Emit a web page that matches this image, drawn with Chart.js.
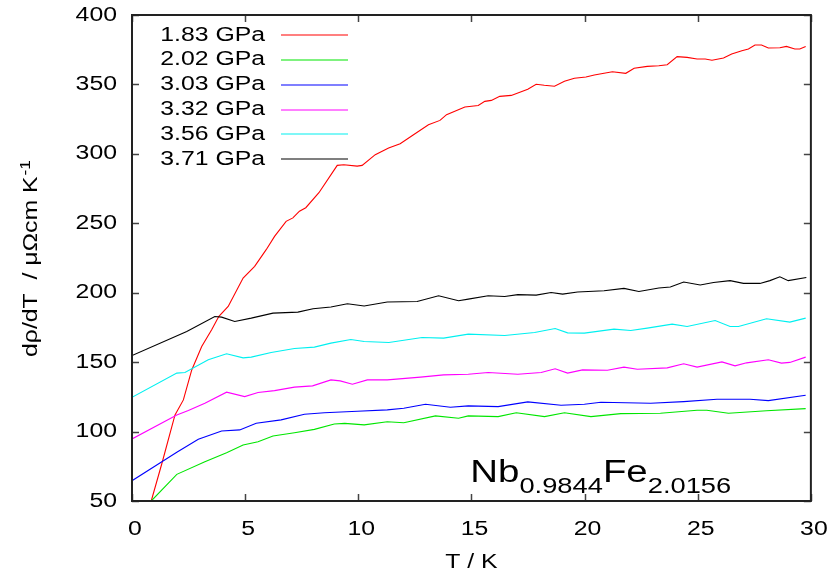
<!DOCTYPE html>
<html>
<head>
<meta charset="utf-8">
<script src="https://cdn.jsdelivr.net/npm/chart.js@4.4.1/dist/chart.umd.min.js"></script>
<style>
  html, body { margin: 0; padding: 0; background: #ffffff; }
  canvas { display: block; }
</style>
</head>
<body>
<canvas id="c" width="838" height="581"></canvas>
<script>
// dρ/dT versus T for Nb0.9844Fe2.0156 at several pressures
const seriesLabels = ['1.83 GPa', '2.02 GPa', '3.03 GPa', '3.32 GPa', '3.56 GPa', '3.71 GPa'];
const seriesColors = ['#ff0000', '#00e600', '#0000ff', '#ff00ff', '#00f0f0', '#000000'];

const T_183 = [0.85,1.32,1.9,2.27,2.64,3.08,3.52,3.84,4.25,4.91,5.42,5.93,6.3,6.81,7.11,7.4,7.68,8.26,9.07,9.36,9.95,10.17,10.75,11.34,11.85,12.44,13.1,13.61,13.9,14.71,15.3,15.59,15.88,16.25,16.76,17.49,17.86,18.22,18.67,19.11,19.55,20.06,20.43,21.23,21.82,22.19,22.77,23.28,23.65,24.09,24.53,24.97,25.33,25.63,26.14,26.5,26.95,27.24,27.53,27.82,28.12,28.63,28.92,29.29,29.51,29.77];
const V_183 = [50,77,112,122.8,144.4,161.3,173.3,183,190.1,210.6,219,231,240.6,251.4,253.9,258.7,261.2,272,291.7,292.2,291.2,291.7,299.4,304.2,307.3,313.8,321,324.1,328.2,333.8,334.8,337.8,338.5,341.4,342.1,346.5,350.1,349.4,348.7,352.3,354.4,355.3,356.8,359.1,358,361.6,363,363.5,364.2,370,369.5,368.3,368.3,367.4,369,371.9,374.3,375.5,378.4,378.4,376.2,376.4,377.4,375.5,375.5,377.4];

const T_202 = [0.85,1.98,3.22,4.18,4.91,5.57,6.23,7.18,8.06,8.94,9.4,10.26,11.28,12.01,13.41,14.43,14.86,16.18,16.98,18.23,19.11,20.28,21.6,23.35,24.97,25.4,26.36,28.04,29.77];
const V_202 = [50,69.2,78.3,84.8,90.3,92.7,96.8,99.2,101.6,105.5,105.9,104.8,107.1,106.4,111.3,109.6,111.3,110.8,113.6,110.8,113.6,110.8,112.9,113.2,115.4,115.4,113.2,115,116.5];

const T_303 = [0,1.32,1.98,2.93,3.96,4.76,5.49,6.59,7.62,8.5,9.96,11.28,12.01,12.97,14.07,14.86,16.18,17.49,18.96,19.99,20.72,22.92,24.38,25.85,27.31,28.12,29.77];
const V_303 = [64.6,78.3,85.1,94.4,100.4,101.2,106,108.4,112.5,113.6,114.6,115.6,116.8,119.7,117.5,118.5,118,121.4,119,119.7,121.1,120.4,121.6,123.3,123.3,122.3,126.2];

const T_332 = [0,1.98,2.49,3.22,4.18,4.98,5.57,6.3,7.18,7.98,8.79,9.2,9.74,10.4,11.28,12.75,13.77,14.86,15.74,17.05,18.08,18.7,19.25,19.91,21.01,21.74,22.33,23.65,24.38,24.97,26.07,26.65,27.16,28.12,28.7,29.07,29.77];
const V_332 = [94.7,112,115.1,120.4,128.4,125.2,128.1,129.5,132,132.9,137.2,136.5,134.1,137.2,137.2,139.2,140.8,141.3,142.5,141.3,142.5,145.2,142.1,144.4,144.2,146.4,144.9,145.9,148.8,146.4,150.2,147.3,149.5,151.7,149.3,149.8,153.6];

const T_356 = [0,1.98,2.34,3.37,4.18,4.91,5.27,6.15,7.18,8.06,8.79,9.67,10.26,11.35,12.82,13.77,14.86,16.47,17.79,18.7,19.25,19.99,21.3,22.04,22.77,23.87,24.53,25.77,26.43,26.8,28.04,29.07,29.77];
const V_356 = [124.7,142.1,142.5,151.7,156,153.1,153.6,156.9,159.8,160.8,163.7,166.3,164.9,164.1,167.7,167.3,170.2,169.2,171.4,174.2,171.1,170.9,173.8,172.8,174.5,177.4,175.7,180,175.7,175.7,181.2,178.8,181.7];

const T_371 = [0,2.42,3.66,3.96,4.54,5.27,6.23,7.33,8.0,8.79,9.52,10.26,11.28,12.6,13.55,14.43,14.86,15.74,16.47,17.05,17.86,18.52,19.03,19.69,20.86,21.74,22.4,23.28,23.79,24.38,25.11,25.7,26.43,27.02,27.75,28.19,28.63,29.0,29.8];
const V_371 = [154.8,172.1,182.9,182.4,179.3,181.7,185.3,186,188.5,189.7,192.1,190.4,193.3,193.7,197.8,194.2,195.4,197.8,197.3,198.6,198.3,200.2,199,200.5,201.4,203.1,200.9,203.4,204.1,207.7,205.6,207.4,208.7,206.7,206.7,208.7,211.5,208.7,211];

const xTicks = [0, 5, 10, 15, 20, 25, 30];
const yTicks = [50, 100, 150, 200, 250, 300, 350, 400];

const seriesT = [T_183, T_202, T_303, T_332, T_356, T_371];
const seriesV = [V_183, V_202, V_303, V_332, V_356, V_371];

const FONT = "'Liberation Sans', Arial, sans-serif";
const SX = 1.24; // horizontal widening of all lettering

const canvas = document.getElementById('c');
const ctx = canvas.getContext('2d');
// every piece of lettering is drawn slightly widened
const rawFillText = ctx.fillText.bind(ctx);
ctx.fillText = function (text, x, y) {
  this.save();
  this.translate(x, y);
  this.scale(SX, 1);
  rawFillText(text, 0, 0);
  this.restore();
};

const datasets = seriesLabels.map((label, i) => ({
  label,
  data: seriesT[i].map((t, k) => ({ x: t, y: seriesV[i][k] })),
  borderColor: seriesColors[i],
  backgroundColor: seriesColors[i],
  borderWidth: 1.1,
  pointRadius: 0,
  tension: 0,
  fill: false,
  order: seriesLabels.length - i
}));

const framePlugin = {
  id: 'frame',
  afterDraw(chart) {
    const c = chart.ctx;
    const ca = chart.chartArea;
    const xs = chart.scales.x, ys = chart.scales.y;
    c.save();
    // inward tick marks on all four sides
    c.strokeStyle = '#444';
    c.lineWidth = 1.5;
    c.beginPath();
    yTicks.forEach(v => {
      const py = Math.round(ys.getPixelForValue(v)) + 0.5;
      c.moveTo(ca.left, py); c.lineTo(ca.left + 7, py);
      c.moveTo(ca.right, py); c.lineTo(ca.right - 7, py);
    });
    xTicks.forEach(v => {
      const px = Math.round(xs.getPixelForValue(v)) + 0.5;
      c.moveTo(px, ca.bottom); c.lineTo(px, ca.bottom - 7);
      c.moveTo(px, ca.top); c.lineTo(px, ca.top + 7);
    });
    c.stroke();
    // border
    c.strokeStyle = '#222';
    c.lineWidth = 2;
    c.strokeRect(ca.left, ca.top, ca.right - ca.left, ca.bottom - ca.top);

    // key: right-aligned text with a line sample
    c.fillStyle = '#000';
    c.font = `20px ${FONT}`;
    c.textAlign = 'right';
    c.textBaseline = 'middle';
    seriesLabels.forEach((label, i) => {
      const rowY = ca.top + 20 + i * 24.85;
      c.fillText(label, ca.left + 133, rowY);
      c.strokeStyle = seriesColors[i];
      c.lineWidth = 1.1;
      c.beginPath();
      c.moveTo(ca.left + 149, Math.round(rowY));
      c.lineTo(ca.left + 216, Math.round(rowY));
      c.stroke();
    });

    // y axis title with superscript
    const mainTxt = 'dρ/dT  / μΩcm K';
    const supTxt = '-1';
    c.textAlign = 'left';
    c.textBaseline = 'alphabetic';
    c.font = `20px ${FONT}`;
    const w1 = c.measureText(mainTxt).width * SX;
    c.font = `14px ${FONT}`;
    const w2 = c.measureText(supTxt).width * SX;
    const cy = (ca.top + ca.bottom) / 2 + 1;
    c.save();
    c.translate(37, cy);
    c.rotate(-Math.PI / 2);
    c.font = `20px ${FONT}`;
    c.fillText(mainTxt, -(w1 + w2) / 2, 0);
    c.font = `14px ${FONT}`;
    c.fillText(supTxt, -(w1 + w2) / 2 + w1 + 1, -7);
    c.restore();

    // compound formula with subscripts
    const parts = [['Nb', 31, 0], ['0.9844', 22, 11], ['Fe', 31, 0], ['2.0156', 22, 11]];
    let px = xs.getPixelForValue(14.95);
    const by = ys.getPixelForValue(63.7);
    parts.forEach(([t, size, dy]) => {
      c.font = `${size}px ${FONT}`;
      c.fillText(t, px, by + dy);
      px += c.measureText(t).width * SX;
    });
    c.restore();
  }
};

new Chart(ctx, {
  type: 'line',
  data: { datasets },
  options: {
    responsive: false,
    animation: false,
    events: [],
    layout: { padding: { left: 0, top: 0, right: 22, bottom: 0 } },
    plugins: { legend: { display: false }, tooltip: { enabled: false } },
    scales: {
      x: {
        type: 'linear',
        min: 0, max: 30,
        grid: { display: false, drawTicks: false },
        border: { display: false },
        afterBuildTicks(s) { s.ticks = xTicks.map(v => ({ value: v })); },
        afterFit(s) { s.height = 80; },
        ticks: { color: '#000', font: { family: FONT, size: 20 }, padding: 16, maxRotation: 0, labelOffset: 3 },
        title: { display: true, text: 'T / K', color: '#000', font: { family: FONT, size: 20 }, padding: { top: 0, bottom: 7 } }
      },
      y: {
        type: 'linear',
        min: 50, max: 400,
        grid: { display: false, drawTicks: false },
        border: { display: false },
        afterBuildTicks(s) { s.ticks = yTicks.map(v => ({ value: v })); },
        afterFit(s) { s.width = 132; s.paddingTop = 15; s.paddingBottom = 0; },
        ticks: { color: '#000', font: { family: FONT, size: 20 }, padding: 15 }
      }
    }
  },
  plugins: [framePlugin]
});
</script>
</body>
</html>
